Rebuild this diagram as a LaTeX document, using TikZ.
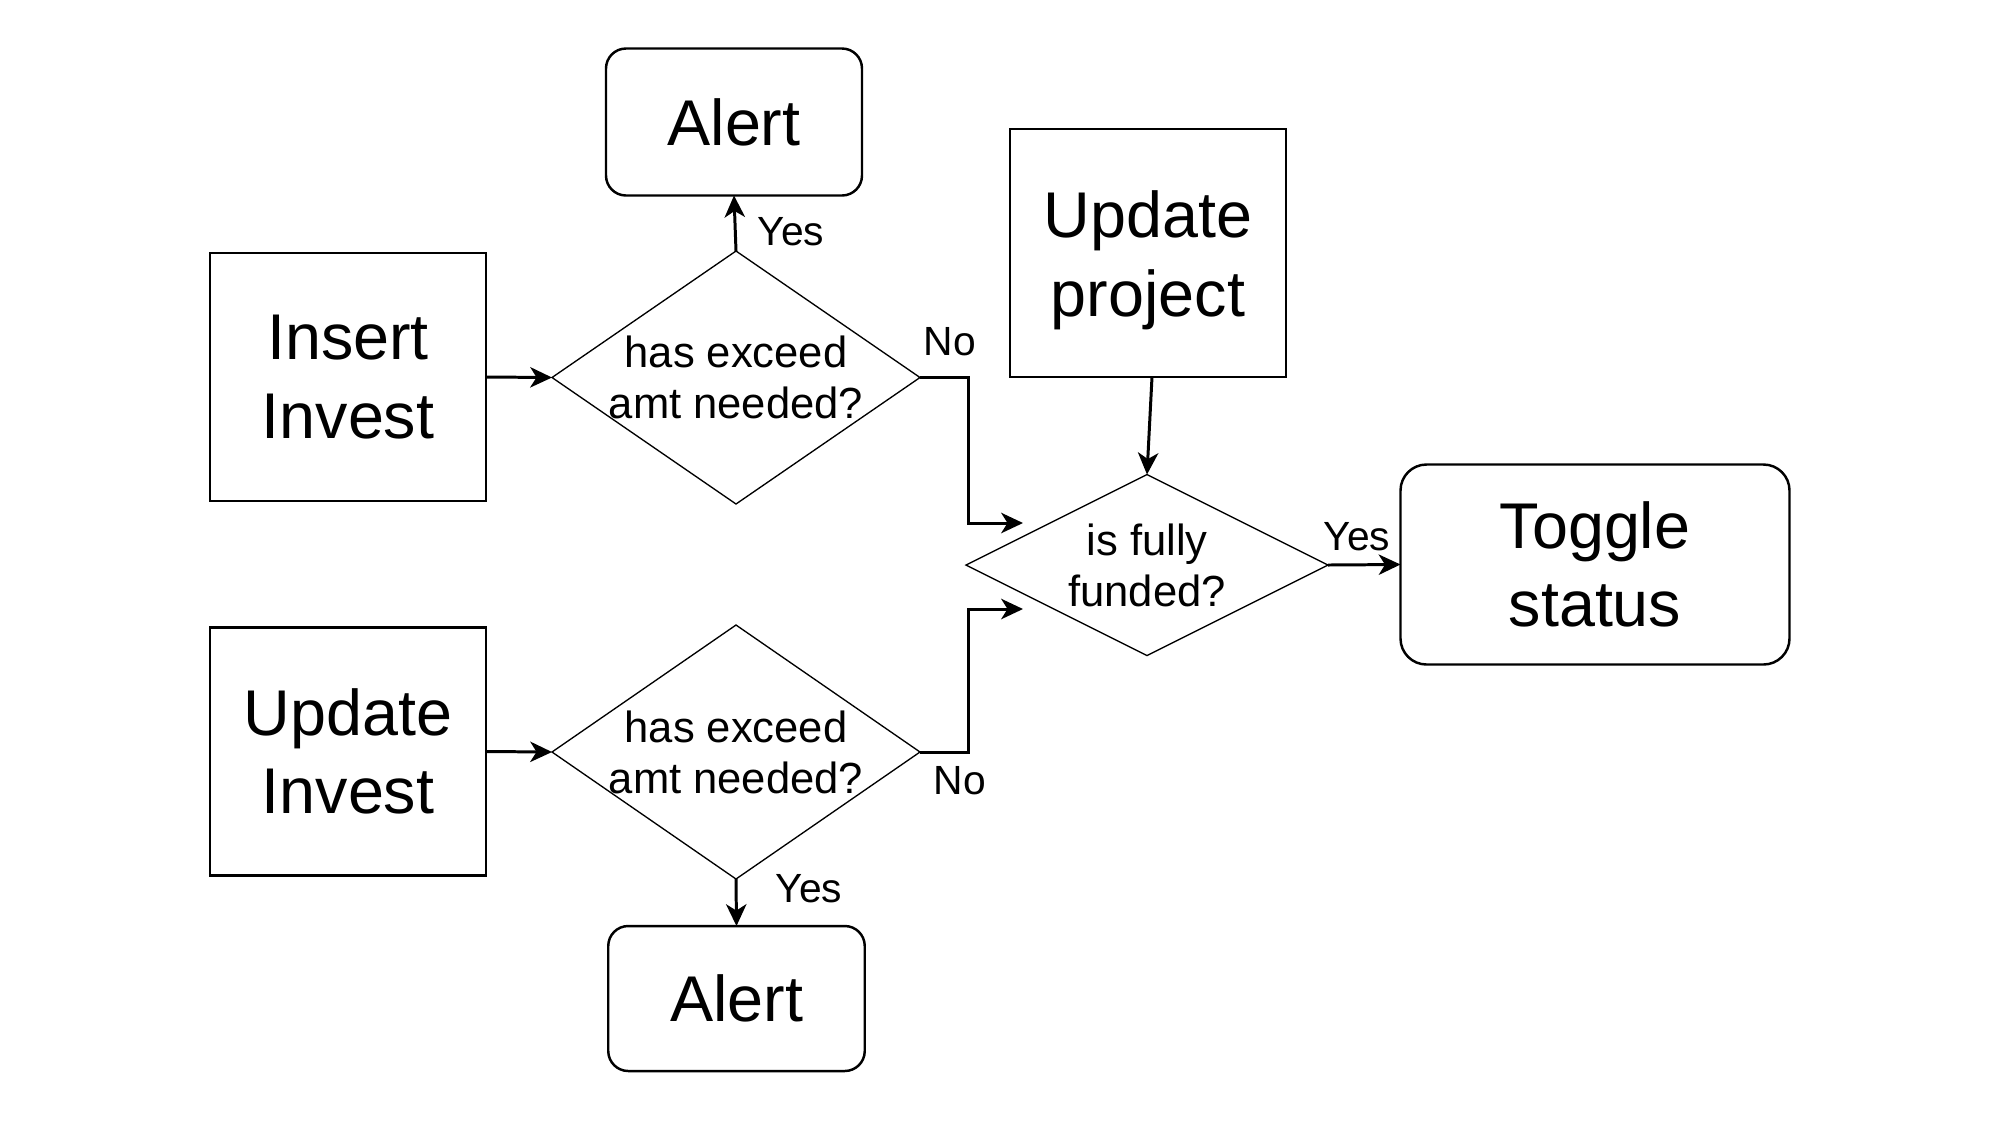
\documentclass[tikz,border=0pt]{standalone}
\usepackage{fontspec}
\setmainfont{Liberation Sans}
\usetikzlibrary{shapes.geometric,arrows.meta,calc}
\begin{document}
\begin{tikzpicture}[x=1cm,y=1cm,
  bigtext/.style={font=\fontsize{18.4}{22.4}\selectfont, align=center},
  sqbox/.style={draw, line width=0.7pt, minimum width=2.76cm, minimum height=2.48cm, inner sep=0pt, outer sep=0pt, bigtext},
  rbox/.style={draw, line width=0.7pt, rounded corners=0.2cm, inner sep=0pt, outer sep=0pt, bigtext},
  dia/.style={draw, diamond, line width=0.38pt, inner sep=0pt, outer sep=0pt},
  dtext/.style={font=\fontsize{12.4}{14.5}\selectfont, align=center, inner sep=0pt},
  lbl/.style={font=\fontsize{11.6}{13}\selectfont, inner sep=0pt},
  arr/.style={line width=0.85pt, -{Stealth[length=6.2pt, width=5.8pt, inset=1.8pt]}}
]
\useasboundingbox (0,0) rectangle (20,-11.25);
\fill[white] (0,0) rectangle (20,-11.25);

% boxes
\node[rbox, minimum width=2.56cm, minimum height=1.47cm] (alert1) at (7.34,-1.22) {Alert};
\node[sqbox] (insert) at (3.48,-3.77) {Insert\\Invest};
\node[sqbox] (updproj) at (11.48,-2.53) {\rule{0pt}{17.5pt}Update\\project};
\node[rbox, minimum width=3.89cm, minimum height=2.0cm, rounded corners=0.26cm] (toggle) at (15.95,-5.645) {Toggle\\status};
\node[sqbox] (updinv) at (3.48,-7.515) {Update\\Invest};
\node[rbox, minimum width=2.565cm, minimum height=1.45cm] (alert2) at (7.365,-9.985) {Alert};

% diamonds
\node[dia, minimum width=3.68cm, minimum height=2.53cm] (d1) at (7.36,-3.775) {};
\node[dtext] (t1) at (d1) {has exceed\\amt needed?};
\node[dia, minimum width=3.62cm, minimum height=1.81cm] (d3) at (11.47,-5.65) {};
\node[dtext] (t3) at (d3) {is fully\\funded?};
\node[dia, minimum width=3.68cm, minimum height=2.54cm] (d2) at (7.36,-7.52) {};
\node[dtext] (t2) at (d2) {has exceed\\amt needed?};

% connectors
\draw[arr] (insert.east) -- (d1.west);
\draw[arr] (updinv.east) -- (d2.west);
\draw[arr] (d1.north) -- (alert1.south);
\draw[arr] (d2.south) -- (alert2.north);
\coordinate (e1) at (10.23,-5.23);
\coordinate (e2) at (10.23,-6.09);
\draw[arr] (d1.east) -- ++(0.48,0) |- (e1);
\draw[arr] (d2.east) -- ++(0.48,0) |- (e2);
\draw[arr] ($(updproj.south)+(0.04,0)$) -- (d3.north);
\draw[arr] (d3.east) -- (toggle.west);

% labels
\node[lbl] (y1) at (7.91,-2.32) {Yes};
\node[lbl] (n1) at (9.50,-3.42) {No};
\node[lbl] (n2) at (9.60,-7.81) {No};
\node[lbl] (y2) at (8.09,-8.89) {Yes};
\node[lbl] (y3) at (13.57,-5.37) {Yes};
\end{tikzpicture}
\end{document}
